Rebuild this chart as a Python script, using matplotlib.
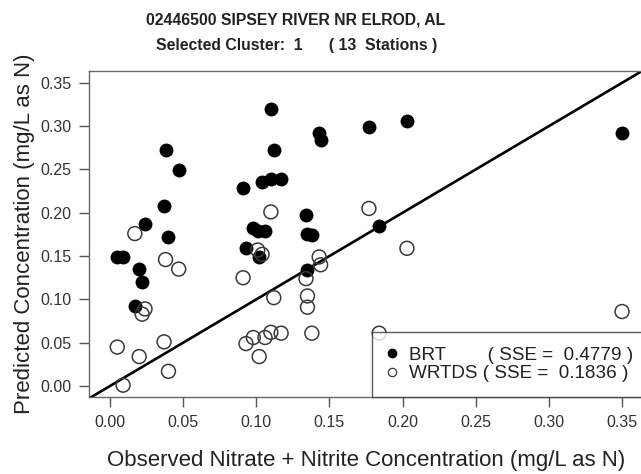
import matplotlib

matplotlib.use("Agg")
import matplotlib.pyplot as plt
from matplotlib.lines import Line2D

plt.rcParams["font.family"] = ["Liberation Sans", "DejaVu Sans"]

# observed concentration and model predictions (mg/L as N)
observed = [0.005, 0.009, 0.017, 0.020, 0.022, 0.024, 0.037, 0.038, 0.040, 0.047,
            0.091, 0.093, 0.098, 0.101, 0.102, 0.104, 0.106, 0.110, 0.110, 0.112,
            0.117, 0.134, 0.135, 0.135, 0.138, 0.143, 0.144, 0.177, 0.184, 0.203,
            0.350]
brt = [0.149, 0.149, 0.092, 0.135, 0.120, 0.187, 0.208, 0.272, 0.172, 0.249,
       0.229, 0.159, 0.183, 0.179, 0.149, 0.235, 0.179, 0.320, 0.239, 0.273,
       0.239, 0.197, 0.176, 0.134, 0.174, 0.292, 0.284, 0.299, 0.185, 0.306,
       0.292]
wrtds = [0.045, 0.001, 0.176, 0.034, 0.083, 0.089, 0.051, 0.146, 0.017, 0.135,
         0.125, 0.049, 0.056, 0.157, 0.034, 0.152, 0.056, 0.201, 0.062, 0.102,
         0.061, 0.124, 0.104, 0.091, 0.061, 0.149, 0.140, 0.205, 0.061, 0.159,
         0.086]

ticks = [0.00, 0.05, 0.10, 0.15, 0.20, 0.25, 0.30, 0.35]
sse_brt = 0.4779
sse_wrtds = 0.1836

fig = plt.figure(figsize=(6.41, 4.74), dpi=100)
ax = fig.add_axes([89.3 / 641, 76.7 / 474, 553.2 / 641, 326.6 / 474])

ax.scatter(observed, brt, s=100, color="black", linewidths=0, zorder=3)
ax.scatter(observed, wrtds, s=100, facecolors="none", edgecolors="#3a3a3a",
           linewidths=1.1, zorder=4)
ax.axline((0, 0), slope=1, color="black", linewidth=1.9, zorder=2)

ax.set_xlim(-0.0141, 0.364)
ax.set_ylim(-0.013, 0.364)
ax.set_xticks(ticks)
ax.set_yticks(ticks)
ax.set_xticklabels([f"{t:.2f}" for t in ticks])
ax.set_yticklabels([f"{t:.2f}" for t in ticks])
ax.tick_params(length=7, width=1, color="#555555", labelsize=11.5,
               labelcolor="#333333", pad=6)
for spine in ax.spines.values():
    spine.set_color("#666666")
    spine.set_linewidth(1.0)

ax.set_xlabel("Observed Nitrate + Nitrite Concentration (mg/L as N)",
              fontsize=16, color="#222222", labelpad=14)
ax.set_ylabel("Predicted Concentration (mg/L as N)", fontsize=16,
              color="#222222", labelpad=4)

fig.text(296 / 641, 1 - 20 / 474, "02446500 SIPSEY RIVER NR ELROD, AL",
         ha="center", va="center", fontsize=11.3, fontweight="bold",
         color="#222222")
fig.text(297 / 641, 1 - 45 / 474, "Selected Cluster:  1      ( 13  Stations )",
         ha="center", va="center", fontsize=11.3, fontweight="bold",
         color="#222222")

handles = [
    Line2D([], [], linestyle="none", marker="o", markersize=6,
           markerfacecolor="black", markeredgecolor="black"),
    Line2D([], [], linestyle="none", marker="o", markersize=6,
           markerfacecolor="none", markeredgecolor="#3a3a3a", markeredgewidth=0.9),
]
labels = [f"BRT        ( SSE =  {sse_brt:.4f} )", f"WRTDS ( SSE =  {sse_wrtds:.4f} )"]
# legend runs off the cropped right edge, as in the source image
leg = ax.legend(handles, labels, loc="lower right", borderaxespad=0,
                bbox_to_anchor=(1 + 6 / 553, 0),
                fontsize=13.6, frameon=True, fancybox=False, borderpad=0.8,
                handlelength=0.5, handletextpad=0.65, labelspacing=0.05)
leg.get_frame().set_edgecolor("#333333")
leg.get_frame().set_linewidth(1.0)
for t in leg.get_texts():
    t.set_color("#222222")

fig.savefig("out.png", dpi=100)
